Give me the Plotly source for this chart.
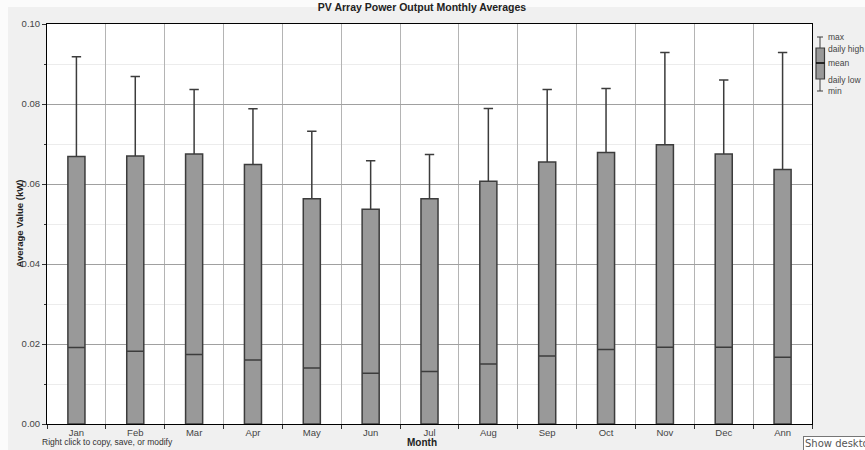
import plotly.graph_objects as go

# ---- data ----
months = ["Jan", "Feb", "Mar", "Apr", "May", "Jun", "Jul", "Aug", "Sep", "Oct", "Nov", "Dec", "Ann"]
max_vals = [0.0918, 0.0869, 0.0836, 0.0788, 0.0732, 0.0658, 0.0674, 0.0789, 0.0836, 0.0839, 0.0929, 0.0860, 0.0929]
daily_high = [0.0669, 0.0670, 0.0675, 0.0649, 0.0563, 0.0537, 0.0563, 0.0607, 0.0655, 0.0679, 0.0698, 0.0675, 0.0636]
mean_vals = [0.0191, 0.0182, 0.0174, 0.0160, 0.0140, 0.0127, 0.0131, 0.0150, 0.0170, 0.0186, 0.0192, 0.0192, 0.0167]
daily_low = [0.0] * 13
min_vals = [0.0] * 13

legend_labels = ["max", "daily high", "mean", "daily low", "min"]

# ---- layout geometry (pixels) ----
W, H = 865, 450
L, R, T, B = 47, 53, 24, 26
PW, PH = W - L - R, H - T - B


def px_x(px):
    return (px - L) / PW


def px_y(py):
    return (H - B - py) / PH


FONT = "Liberation Sans, Arial, sans-serif"
BOX_LINE = "#3c3c3c"

fig = go.Figure()
fig.add_trace(go.Box(
    x=months,
    q1=daily_low,
    median=mean_vals,
    q3=daily_high,
    lowerfence=min_vals,
    upperfence=max_vals,
    boxpoints=False,
    width=0.29,
    whiskerwidth=0.55,
    fillcolor="#999999",
    line=dict(color=BOX_LINE, width=1.5),
    showlegend=False,
    hoverinfo="skip",
))

shapes = []
# white strips at the top and left of the window
shapes.append(dict(type="rect", xref="paper", yref="paper", x0=px_x(0), x1=px_x(W), y0=px_y(0), y1=px_y(7),
                   fillcolor="#fbfbfb", line=dict(width=0), layer="below"))
shapes.append(dict(type="rect", xref="paper", yref="paper", x0=px_x(0), x1=px_x(8), y0=px_y(0), y1=px_y(H),
                   fillcolor="#fbfbfb", line=dict(width=0), layer="below"))

# legend icon
cx = 820
lc = "#3c3c3c"
shapes += [
    dict(type="line", xref="paper", yref="paper", x0=px_x(cx), x1=px_x(cx), y0=px_y(37), y1=px_y(48), line=dict(color=lc, width=1)),
    dict(type="line", xref="paper", yref="paper", x0=px_x(cx - 3), x1=px_x(cx + 3), y0=px_y(37), y1=px_y(37), line=dict(color=lc, width=1)),
    dict(type="rect", xref="paper", yref="paper", x0=px_x(816), x1=px_x(824.5), y0=px_y(48), y1=px_y(79),
         fillcolor="#999999", line=dict(color=lc, width=1.2)),
    dict(type="line", xref="paper", yref="paper", x0=px_x(816), x1=px_x(824.5), y0=px_y(63), y1=px_y(63), line=dict(color="#000", width=1.5)),
    dict(type="line", xref="paper", yref="paper", x0=px_x(cx), x1=px_x(cx), y0=px_y(79), y1=px_y(91), line=dict(color=lc, width=1)),
    dict(type="line", xref="paper", yref="paper", x0=px_x(cx - 3), x1=px_x(cx + 3), y0=px_y(91), y1=px_y(91), line=dict(color=lc, width=1)),
]

annotations = []
for lbl, py in zip(legend_labels, [37, 49.5, 63, 79.5, 91]):
    annotations.append(dict(text=lbl, xref="paper", yref="paper", x=px_x(826), y=px_y(py),
                            xanchor="left", yanchor="middle", showarrow=False,
                            font=dict(family=FONT, size=8.5, color="#444")))

annotations += [
    dict(text="<b>Month</b>", xref="paper", yref="paper", x=px_x(422), y=px_y(442),
         xanchor="center", yanchor="middle", showarrow=False, font=dict(family=FONT, size=10, color="#222")),
    dict(text="<b>Average Value (kW)</b>", xref="paper", yref="paper", x=px_x(18.5), y=0.5, textangle=-90,
         xanchor="center", yanchor="middle", showarrow=False, font=dict(family=FONT, size=9.5, color="#222")),
    dict(text="Right click to copy, save, or modify", xref="paper", yref="paper", x=px_x(40), y=px_y(442),
         xanchor="left", yanchor="middle", showarrow=False, font=dict(family=FONT, size=8.5, color="#333")),
    dict(text="Show desktop", xref="paper", yref="paper", x=px_x(803), y=px_y(443.5),
         xanchor="left", yanchor="middle", showarrow=False, font=dict(family="DejaVu Sans, sans-serif", size=10, color="#555"),
         bgcolor="#ffffff", bordercolor="#767676", borderwidth=1, borderpad=1),
]

fig.update_layout(
    width=W, height=H, autosize=False,
    margin=dict(l=L, r=R, t=T, b=B),
    paper_bgcolor="#f0f0f0",
    plot_bgcolor="#ffffff",
    font=dict(family=FONT, size=9.5, color="#444"),
    title=dict(text="<b>PV Array Power Output Monthly Averages</b>", x=422 / W, xanchor="center",
               y=1 - 7 / H, yanchor="middle", font=dict(family=FONT, size=10.5, color="#222")),
    shapes=shapes,
    annotations=annotations,
    xaxis=dict(
        type="category", tickson="boundaries", range=[-0.5, 12.5],
        showgrid=True, gridcolor="#b4b4b4", gridwidth=1,
        showline=True, linecolor="#000", linewidth=1, mirror=True,
        ticks="outside", ticklen=4, tickcolor="#333",
        tickfont=dict(family=FONT, size=9.5, color="#444"),
        fixedrange=True,
    ),
    yaxis=dict(
        range=[0, 0.1], dtick=0.02, tick0=0, tickformat=".2f",
        showgrid=True, gridcolor="#a0a0a0", gridwidth=1,
        showline=True, linecolor="#000", linewidth=1, mirror=True,
        ticks="outside", ticklen=4, tickcolor="#333",
        tickfont=dict(family=FONT, size=9.5, color="#444"),
        zeroline=False,
        minor=dict(dtick=0.01, showgrid=True, gridcolor="#ececec", ticks="outside", ticklen=2, tickcolor="#333"),
        fixedrange=True,
    ),
)

fig.write_html(
    "out.html",
    config={"displayModeBar": False},
    post_script="document.body.style.margin='0';document.body.style.overflow='hidden';",
)
